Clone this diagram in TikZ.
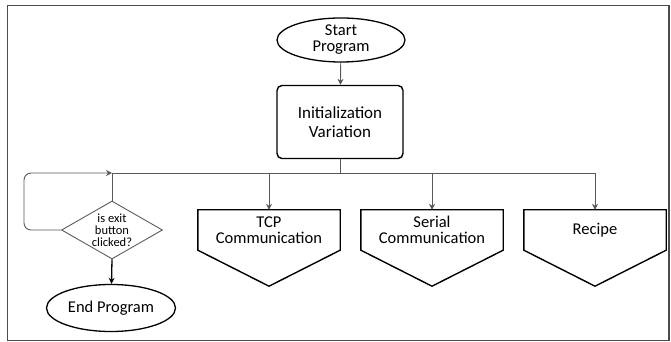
\documentclass[tikz,border=0pt]{standalone}
\usepackage{fontspec}
\setmainfont{Carlito}
\usetikzlibrary{arrows.meta,positioning,shapes.geometric,calc}

\begin{document}
\begin{tikzpicture}[x=1pt,y=1pt,
 every node/.style={align=center,font=\fontsize{16.5}{16.5}\selectfont},
 terminal/.style={ellipse,draw,line width=1.3pt,inner sep=0pt},
 process/.style={rectangle,draw,rounded corners=5pt,line width=1.4pt,
   minimum width=126pt,minimum height=73pt},
 branch/.style={rectangle,minimum width=142pt,minimum height=40pt,inner sep=0pt},
 pentagon/.style={draw,line width=1.4pt,line join=miter},
 decision/.style={diamond,draw,gray!70!black,text=black,line width=0.9pt,
   minimum width=101pt,minimum height=58pt,inner sep=0pt,aspect=1.74,
   font=\fontsize{12.5}{12.2}\selectfont},
 conn/.style={draw,gray!70!black,line width=0.9pt},
 arr/.style={-{Stealth[length=6pt,width=6pt]}}]
 \useasboundingbox (0,0) rectangle (671,342);
 \draw[gray!60!black,line width=1.5pt] (7.5,1.5) rectangle (669,336.5);

 \node[terminal,minimum width=128pt,minimum height=44pt,
   font=\fontsize{16.5}{16}\selectfont] (start) at (341,302) {Start\\Program};
 \node[process,font=\fontsize{17}{18.5}\selectfont] (init) at (340,220)
   {Initialization\\Variation};
 \coordinate (bus) at (340,169);

 \node[decision] (exit) at (112,112) {is exit\\button\\clicked?};
 \node[terminal,minimum width=129pt,minimum height=47pt] (end) at (111,34)
   {End Program};

 \node[branch] (tcp) at (269,112) {TCP\\Communication};
 \node[branch] (serial) at (432,112) {Serial\\Communication};
 \node[branch] (recipe) at (595,112) {Recipe};
 \foreach \n in {tcp,serial,recipe}
   \draw[pentagon] (\n.north west) -- (\n.north east) -- (\n.south east)
     -- ($(\n.south)+(0,-36)$) -- (\n.south west) -- cycle;

 % connectors
 \draw[conn,arr] (start) -- (init);
 \draw[conn] (init) -- (bus);
 \draw[conn] (exit.north) -- (exit.north |- bus) -- (recipe.north |- bus);
 \foreach \n in {tcp,serial,recipe}
   \draw[conn,arr] (\n.north |- bus) -- (\n.north);
 \draw[conn,arr,rounded corners=7pt] (exit.west) -- (24,112) -- (24,169)
   -- (exit.north |- bus);
 \draw[line width=1.3pt,arr] (exit.south) -- (end);
\end{tikzpicture}
\end{document}
